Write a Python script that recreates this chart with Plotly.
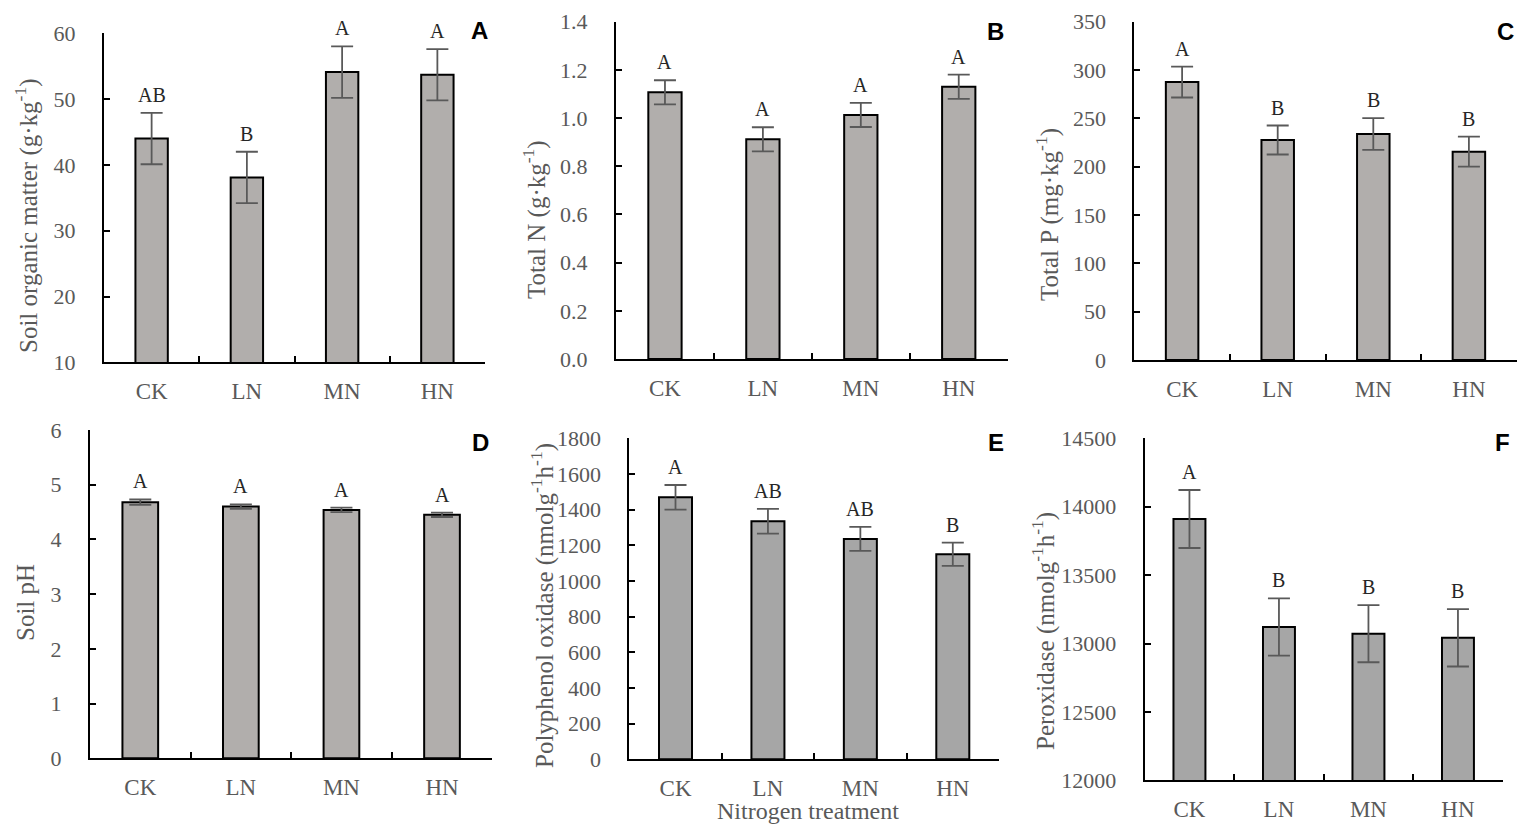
"""Soil properties and enzyme activities under nitrogen treatments"""
import plotly.graph_objects as go

W, H = 1535, 837
PAGE_PAD = 8              # default body margin of the html page
FW, FH = W - 2 * PAGE_PAD, H - 2 * PAGE_PAD

categories = ['CK', 'LN', 'MN', 'HN']

# A - soil organic matter
som_mean = [44.0, 38.1, 54.1, 53.7]
som_err = [3.9, 3.9, 3.9, 3.9]
som_letters = ['AB', 'B', 'A', 'A']

# B - total N
tn_mean = [1.107, 0.912, 1.013, 1.130]
tn_err = [0.05, 0.05, 0.05, 0.05]
tn_letters = ['A', 'A', 'A', 'A']

# C - total P
tp_mean = [287.6, 227.6, 233.8, 215.5]
tp_err = [16.0, 15.0, 16.5, 15.5]
tp_letters = ['A', 'B', 'B', 'B']

# D - soil pH
ph_mean = [4.68, 4.60, 4.54, 4.45]
ph_err = [0.05, 0.04, 0.04, 0.04]
ph_letters = ['A', 'A', 'A', 'A']

# E - polyphenol oxidase
ppo_mean = [1469, 1335, 1236, 1150]
ppo_err = [69, 69, 67, 65]
ppo_letters = ['A', 'AB', 'AB', 'B']

# F - peroxidase
pod_mean = [13910, 13121, 13072, 13042]
pod_err = [212, 209, 209, 210]
pod_letters = ['A', 'B', 'B', 'B']

SERIF = 'Liberation Serif, Times New Roman, serif'
SANS = 'Liberation Sans, Arial, sans-serif'
GREY_TEXT = '#595959'


def px_x(x):
    return (x - PAGE_PAD) / FW


def px_y(y):
    return 1 - (y - PAGE_PAD) / FH


# panel: data, y range, dtick, format, ytitle, plot-area px box (x0, x1, ytop, ybottom), title pos, bar colour
panels = [
    dict(tag='A', mean=som_mean, err=som_err, letters=som_letters, yr=[10, 60], dtick=10, fmt='d',
         title='Soil organic matter (g·kg<sup>-1</sup>)', box=(104, 485, 33.3, 362.3),
         tpos=(27, 216), lpos=(479, 30), color='#b1aeac', width=0.34),
    dict(tag='B', mean=tn_mean, err=tn_err, letters=tn_letters, yr=[0, 1.4], dtick=0.2, fmt='.1f',
         title='Total N (g·kg<sup>-1</sup>)', box=(616, 1007.7, 21.7, 359),
         tpos=(535, 220), lpos=(996, 32), color='#b1aeac', width=0.34),
    dict(tag='C', mean=tp_mean, err=tp_err, letters=tp_letters, yr=[0, 350], dtick=50, fmt='d',
         title='Total P (mg·kg<sup>-1</sup>)', box=(1134.3, 1516.7, 21.7, 360),
         tpos=(1047, 215), lpos=(1505, 32), color='#b1aeac', width=0.34),
    dict(tag='D', mean=ph_mean, err=ph_err, letters=ph_letters, yr=[0, 6], dtick=1, fmt='d',
         title='Soil pH', box=(90, 492.3, 430, 758.3),
         tpos=(25, 603), lpos=(480, 442), color='#b1aeac', width=0.355),
    dict(tag='E', mean=ppo_mean, err=ppo_err, letters=ppo_letters, yr=[0, 1800], dtick=200, fmt='d',
         title='Polyphenol oxidase (nmolg<sup>-1</sup>h<sup>-1</sup>)', box=(629.3, 999, 438.3, 759.3),
         tpos=(542, 606), lpos=(996, 442), color='#a6a6a6', width=0.357),
    dict(tag='F', mean=pod_mean, err=pod_err, letters=pod_letters, yr=[12000, 14500], dtick=500, fmt='d',
         title='Peroxidase (nmolg<sup>-1</sup>h<sup>-1</sup>)', box=(1144.7, 1502.7, 438.3, 780.3),
         tpos=(1043, 631), lpos=(1502, 442), color='#a6a6a6', width=0.357),
]

fig = go.Figure()
annotations = []
layout = {}

for i, p in enumerate(panels, start=1):
    xa = 'x' if i == 1 else f'x{i}'
    ya = 'y' if i == 1 else f'y{i}'
    x0, x1, yt, yb = p['box']

    fig.add_trace(go.Bar(
        x=categories, y=p['mean'], xaxis=xa, yaxis=ya,
        width=p['width'],
        marker=dict(color=p['color'], line=dict(color='black', width=2)),
        error_y=dict(type='data', array=p['err'], visible=True,
                     color='#595959', thickness=1.8, width=11),
        showlegend=False, hoverinfo='skip'
    ))

    axis_key = 'xaxis' if i == 1 else f'xaxis{i}'
    yaxis_key = 'yaxis' if i == 1 else f'yaxis{i}'
    layout[axis_key] = dict(
        domain=[px_x(x0), px_x(x1)], anchor=ya, type='category', automargin=False,
        range=[-0.5, 3.5], showline=True, linecolor='black', linewidth=2,
        ticks='inside', tickson='boundaries', ticklen=6, tickwidth=2, tickcolor='black',
        showgrid=False, zeroline=False, fixedrange=True,
        tickfont=dict(family=SERIF, size=23, color=GREY_TEXT),
        ticklabelstandoff=7,
    )
    layout[yaxis_key] = dict(
        domain=[px_y(yb), px_y(yt)], anchor=xa, automargin=False,
        range=p['yr'], dtick=p['dtick'], tick0=0, tickformat=p['fmt'],
        showline=True, linecolor='black', linewidth=2,
        ticks='inside', ticklen=6, tickwidth=2, tickcolor='black',
        showgrid=False, zeroline=False, fixedrange=True,
        tickfont=dict(family=SERIF, size=22, color=GREY_TEXT),
        ticklabelstandoff=22,
    )

    # significance letters above error bars
    for cat, m, e, let in zip(categories, p['mean'], p['err'], p['letters']):
        annotations.append(dict(
            x=cat, y=m + e, xref=xa, yref=ya, text=let, showarrow=False,
            yanchor='bottom', yshift=5,
            font=dict(family=SERIF, size=20, color='#262626')
        ))

    # y-axis title
    annotations.append(dict(
        x=px_x(p['tpos'][0]), y=px_y(p['tpos'][1]), xref='paper', yref='paper',
        text=p['title'], showarrow=False, textangle=-90,
        xanchor='center', yanchor='middle',
        font=dict(family=SERIF, size=25, color=GREY_TEXT)
    ))

    # panel label
    annotations.append(dict(
        x=px_x(p['lpos'][0]), y=px_y(p['lpos'][1]), xref='paper', yref='paper',
        text=f"<b>{p['tag']}</b>", showarrow=False,
        xanchor='center', yanchor='middle',
        font=dict(family=SANS, size=24, color='black')
    ))

annotations.append(dict(
    x=px_x(808), y=px_y(811), xref='paper', yref='paper',
    text='Nitrogen treatment', showarrow=False,
    xanchor='center', yanchor='middle',
    font=dict(family=SERIF, size=24, color=GREY_TEXT)
))

fig.update_layout(
    width=FW, height=FH,
    margin=dict(l=0, r=0, t=0, b=0, autoexpand=False),
    paper_bgcolor='white', plot_bgcolor='white',
    showlegend=False,
    annotations=annotations,
    **layout
)

fig.write_html("out.html")
